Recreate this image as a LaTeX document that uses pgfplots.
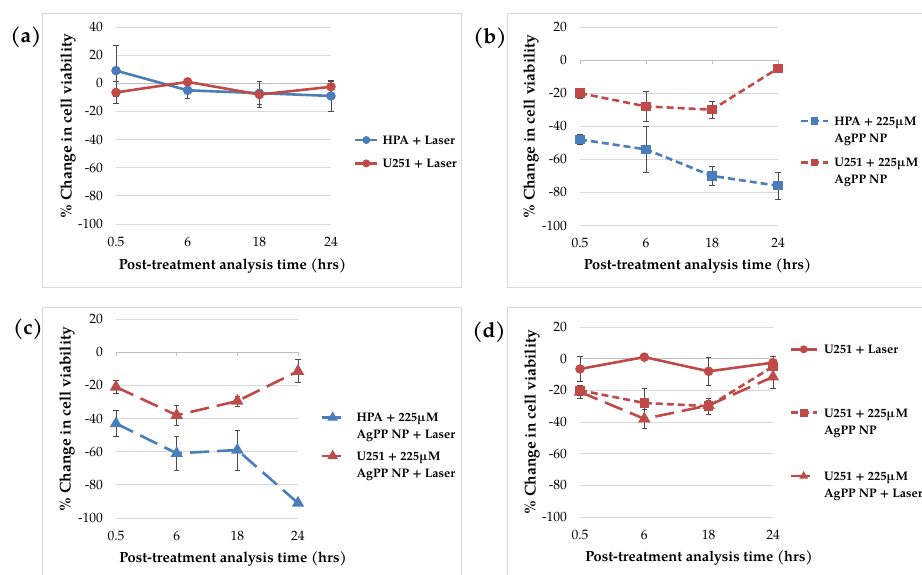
\documentclass[border=0pt]{standalone}
\usepackage{fontspec}
\setmainfont{TeX Gyre Pagella}
\usepackage{pgfplots}
\pgfplotsset{compat=1.18}
\definecolor{xblue}{HTML}{4A7EBB}
\definecolor{xred}{HTML}{BE4B48}
\definecolor{gridc}{HTML}{D9D9D9}
\definecolor{framec}{HTML}{D9D9D9}
\definecolor{axisc}{HTML}{BFBFBF}
\definecolor{ebar}{HTML}{4A4A4A}
\newcommand{\LS}{\rule[-5.1pt]{0pt}{17pt}}
\newcommand{\LA}[1]{\hbox{\LS #1}}
\newcommand{\LB}[2]{\vtop{\offinterlineskip\hbox{\LS #1}\hbox{\LS #2}}}
\newcommand{\zeroaxis}{%
  \draw[axisc, line width=0.8pt] (axis cs:0,0) -- (axis cs:3,0);
  \draw[axisc, line width=0.8pt] (axis cs:0,0) -- ++(0pt,-4pt);
  \draw[axisc, line width=0.8pt] (axis cs:1,0) -- ++(0pt,-4pt);
  \draw[axisc, line width=0.8pt] (axis cs:2,0) -- ++(0pt,-4pt);
  \draw[axisc, line width=0.8pt] (axis cs:3,0) -- ++(0pt,-4pt);}
\pgfplotsset{
  panel/.style={
    scale only axis, anchor=south west,
    xmin=0, xmax=3, ymin=-100,
    xtick={0,1,2,3}, xticklabels={0.5,6,18,24},
    axis line style={draw=none}, major tick style={draw=none},
    ymajorgrids, grid style={gridc, line width=0.8pt},
    clip=false,
    tick label style={font=\fontsize{13.5}{15}\selectfont},
    xticklabel style={yshift=-9.5pt},
    yticklabel style={xshift=-9.5pt},
    /pgf/number format/assume math mode=true,
    legend style={draw=none, fill=none, inner sep=0pt, outer sep=0pt, anchor=north west,
      font=\bfseries\fontsize{12.4}{17}\selectfont, cells={anchor=base west, inner sep=0pt}},
    every axis plot/.append style={line width=2.6pt},
  },
  eb/.style={error bars/.cd, y dir=both, y explicit,
    error bar style={color=ebar, line width=0.8pt, solid},
    error mark options={color=ebar, line width=0.8pt, mark size=2.8pt, rotate=90, solid}},
  limg/.style={legend image code/.code={%
    \draw[mark repeat=2,mark phase=2, mark size=2.6pt] plot coordinates {(0pt,4.3pt)(#1/2,4.3pt)(#1,4.3pt)};}},
  limgt/.style={legend image code/.code={%
    \draw[mark repeat=2,mark phase=2, mark size=3.6pt] plot coordinates {(0pt,4.3pt)(#1/2,4.3pt)(#1,4.3pt)};}},
}
\begin{document}
\begin{tikzpicture}[x=1pt,y=1pt]
\useasboundingbox (0,0) rectangle (922,574);
\fill[white] (0,0) rectangle (922,574);
\draw[framec, line width=0.8pt] (42,287) rectangle (461,561);
\draw[framec, line width=0.8pt] (507,287) rectangle (925,561);
\draw[framec, line width=0.8pt] (42,-5) rectangle (461,267);
\draw[framec, line width=0.8pt] (507,-5) rectangle (925,267);

% ---------------- (a)
\begin{axis}[panel, at={(116pt,350pt)}, width=215pt, height=197pt,
  ymax=40, ytick={-100,-80,-60,-40,-20,0,20,40},
  legend style={at={(axis description cs:1.107,0.475)}, row sep=6pt, column sep=2pt},
  limg=22pt]
\zeroaxis
\addplot[xblue, mark=*, mark size=3.4pt, mark options={solid}, eb] coordinates
  {(0,9) +- (0,18) (1,-5) +- (0,6) (2,-7) +- (0,8) (3,-9) +- (0,11)};
\addlegendentry{\LA{HPA + Laser}}
\addplot[xred, mark=*, mark size=3.4pt, mark options={solid}, eb] coordinates
  {(0,-6.5) +- (0,8) (1,1) +- (0,2) (2,-8) +- (0,9) (3,-2.5) +- (0,4)};
\addlegendentry{\LA{U251 + Laser}}
\end{axis}

% ---------------- (b)
\begin{axis}[panel, at={(580pt,348.5pt)}, width=198pt, height=198.5pt,
  ymax=20, ytick={-100,-80,-60,-40,-20,0,20},
  legend style={at={(axis description cs:1.11,0.574)}, row sep=24pt, column sep=3pt},
  limg=27pt]
\zeroaxis
\addplot[xblue, dash pattern=on 7pt off 4pt, mark=square*, mark size=3.4pt, mark options={solid}, eb] coordinates
  {(0,-48) +- (0,3) (1,-54) +- (0,14) (2,-70) +- (0,6) (3,-76) +- (0,8)};
\addlegendentry{\LB{HPA + 225µM}{AgPP NP}}
\addplot[xred, dash pattern=on 7pt off 4pt, mark=square*, mark size=3.4pt, mark options={solid}, eb] coordinates
  {(0,-20) +- (0,3) (1,-28) +- (0,9) (2,-30) +- (0,5) (3,-5) +- (0,1)};
\addlegendentry{\LB{U251 + 225µM}{AgPP NP}}
\end{axis}

% ---------------- (c)
\begin{axis}[panel, at={(116pt,56pt)}, width=182pt, height=199pt,
  ymax=20, ytick={-100,-80,-60,-40,-20,0,20},
  legend style={at={(axis description cs:1.126,0.553)}, row sep=21pt, column sep=10pt},
  limgt=21pt]
\zeroaxis
\addplot[xblue, dash pattern=on 19pt off 8pt, mark=triangle*, mark size=4.6pt, mark options={solid}, eb] coordinates
  {(0,-43) +- (0,8) (1,-61) +- (0,10) (2,-59) +- (0,12) (3,-91) +- (0,1)};
\addlegendentry{\LB{HPA + 225µM}{AgPP NP + Laser}}
\addplot[xred, dash pattern=on 19pt off 8pt, mark=triangle*, mark size=4.6pt, mark options={solid}, eb] coordinates
  {(0,-21) +- (0,4) (1,-38) +- (0,6) (2,-29.5) +- (0,3) (3,-11.5) +- (0,7)};
\addlegendentry{\LB{U251 + 225µM}{AgPP NP + Laser}}
\end{axis}

% ---------------- (d)
\begin{axis}[panel, at={(580pt,57pt)}, width=193pt, height=190pt,
  ymax=20, ytick={-100,-80,-60,-40,-20,0,20},
  legend style={at={(axis description cs:1.085,0.933)}, row sep=46pt, column sep=4pt},
  limg=26pt]
\zeroaxis
\addplot[xred, mark=*, mark size=3.4pt, mark options={solid}, eb] coordinates
  {(0,-6.5) +- (0,8) (1,1) +- (0,2) (2,-8) +- (0,9) (3,-2.5) +- (0,4)};
\addlegendentry{\LA{U251 + Laser}}
\addplot[xred, dash pattern=on 7pt off 4pt, mark=square*, mark size=3.4pt, mark options={solid}, eb] coordinates
  {(0,-20) +- (0,3) (1,-28) +- (0,9) (2,-30) +- (0,5) (3,-5) +- (0,1)};
\addlegendentry{\LB{U251 + 225µM}{AgPP NP}}
\addplot[xred, dash pattern=on 19pt off 8pt, mark=triangle*, mark size=4.6pt, mark options={solid}, eb] coordinates
  {(0,-21) +- (0,4) (1,-38) +- (0,6) (2,-29.5) +- (0,3) (3,-11.5) +- (0,7)};
\addlegendentry{\LB{U251 + 225µM}{AgPP NP + Laser}}
\end{axis}

% ---------------- labels
\tikzset{xl/.style={font=\bfseries\fontsize{14.6}{17}\selectfont},
         yl/.style={font=\bfseries\fontsize{15.6}{18}\selectfont},
         pl/.style={font=\bfseries\fontsize{21}{24}\selectfont}}
\node[xl] at (232.5,308.3) {Post-treatment analysis time (hrs)};
\node[xl] at (697.5,308.3) {Post-treatment analysis time (hrs)};
\node[xl] at (233,15) {Post-treatment analysis time (hrs)};
\node[xl] at (699,16) {Post-treatment analysis time (hrs)};
\node[yl, rotate=90] at (68,448) {\% Change in cell viability};
\node[yl, rotate=90] at (531,447.5) {\% Change in cell viability};
\node[yl, rotate=90] at (67,155) {\% Change in cell viability};
\node[yl, rotate=90] at (532,152) {\% Change in cell viability};
\node[pl] at (26,537) {(a)};
\node[pl] at (490,536) {(b)};
\node[pl] at (28,245) {(c)};
\node[pl] at (489,242) {(d)};
\end{tikzpicture}
\end{document}
